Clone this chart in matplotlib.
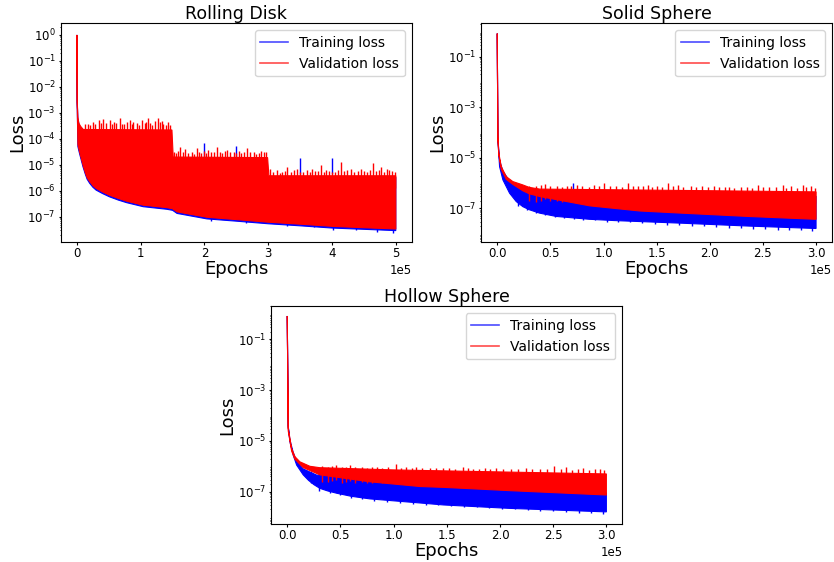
import numpy as np
import matplotlib
matplotlib.use("Agg")
import matplotlib.pyplot as plt
from matplotlib.lines import Line2D

# ---------------- Rolling Disk ----------------
rd_train_lo_ep = [0, 500, 1600, 4000, 9500, 13000, 16000, 20000, 25000, 30000, 40000, 51000, 65000, 78000,
                  104000, 141000, 150000, 157000, 204000, 250000, 300000, 350000, 400000, 450000, 500000]
rd_train_lo = [1.0, 1.6e-3, 5.0e-5, 2.8e-5, 8.5e-6, 4.5e-6, 2.8e-6, 1.95e-6, 1.38e-6, 1.07e-6, 7.9e-7, 5.9e-7,
               4.4e-7, 3.5e-7, 2.45e-7, 1.95e-7, 1.78e-7, 1.35e-7, 8.3e-8, 6.8e-8, 5.4e-8, 4.5e-8, 3.7e-8,
               3.3e-8, 2.95e-8]
rd_train_hi_ep = [0, 500, 1600, 4000, 9500, 141000, 150000, 250000, 300000, 500000]
rd_train_hi = [1.0, 2.5e-3, 6.0e-4, 3.0e-4, 2.0e-4, 2.0e-4, 1.8e-5, 1.8e-5, 3.3e-6, 3.3e-6]
rd_val_lo_ep = rd_train_lo_ep
rd_val_lo = [1.0, 2.0e-3, 6.0e-5, 3.3e-5, 1.0e-5, 5.2e-6, 3.2e-6, 2.3e-6, 1.6e-6, 1.25e-6, 9.1e-7, 6.8e-7,
             5.1e-7, 4.0e-7, 2.8e-7, 2.25e-7, 2.05e-7, 1.55e-7, 9.6e-8, 7.8e-8, 6.2e-8, 5.2e-8, 4.3e-8,
             3.8e-8, 3.4e-8]
rd_val_hi_ep = [0, 500, 1500, 3000, 6000, 10000, 149000, 151000, 299000, 301000, 500000]
rd_val_hi = [1.0, 3.0e-3, 7.0e-4, 4.0e-4, 3.0e-4, 2.3e-4, 2.2e-4, 2.0e-5, 1.9e-5, 3.8e-6, 3.8e-6]
rd_train_spk_ep = [200000, 250000, 350000, 400000]
rd_train_spk = [6.8e-5, 5.4e-5, 1.8e-5, 1.8e-5]
rd_val_spk_ep = [12000, 17000, 21000, 25200, 29000, 34700, 38000, 41000, 46000, 51500, 55000, 58300,
                 62000, 67200, 71000, 74000, 78000, 83000, 86000, 88000, 93500, 97000, 101400, 106000,
                 108000, 111800, 115000, 118000, 122000, 126500, 130200, 133000, 135000, 140000, 143000,
                 146000,
                 153000, 155000, 158000, 162000, 166000, 170000, 174000, 180000, 184000, 188000, 192000,
                 195000, 199000, 203000, 206000, 210000, 215000, 220000, 224000, 228000, 232000, 235000,
                 240000, 246000, 250000, 254000, 258000, 262000, 267000, 271000, 277000, 281000, 285000,
                 289000, 293000, 297000,
                 303000, 308000, 314000, 318000, 322000, 326000, 330000, 335000, 340000, 345000, 350000,
                 355000, 360000, 365000, 369000, 374000, 378000, 382000, 387000, 391000, 395000, 400000,
                 405000, 410000, 414000, 419000, 424000, 429000, 434000, 440000, 445000, 450000, 455000,
                 460000, 464000, 469000, 473000, 477000, 482000, 486000, 490000, 494000, 498000]
rd_val_spk = [3.6e-4, 3.8e-4, 3.3e-4, 4.6e-4, 3.9e-4, 5.4e-4, 4.0e-4, 5.6e-4, 4.2e-4, 5.4e-4, 3.7e-4, 4.6e-4,
              4.1e-4, 6.6e-4, 3.8e-4, 3.6e-4, 4.3e-4, 5.4e-4, 3.9e-4, 4.4e-4, 4.0e-4, 3.5e-4, 5.4e-4, 4.0e-4,
              4.5e-4, 6.6e-4, 4.2e-4, 3.5e-4, 4.8e-4, 6.2e-4, 4.6e-4, 5.0e-4, 3.8e-4, 3.3e-4, 4.5e-4,
              3.5e-4,
              3.0e-5, 2.9e-5, 3.4e-5, 5.0e-5, 3.0e-5, 4.0e-5, 2.8e-5, 3.2e-5, 2.7e-5, 4.3e-5, 3.0e-5,
              2.8e-5, 3.3e-5, 2.9e-5, 3.7e-5, 3.0e-5, 3.2e-5, 5.0e-5, 3.1e-5, 2.9e-5, 3.4e-5, 3.7e-5,
              3.0e-5, 3.2e-5, 2.8e-5, 3.3e-5, 2.8e-5, 3.1e-5, 4.3e-5, 3.0e-5, 3.2e-5, 2.7e-5, 2.9e-5,
              3.4e-5, 3.2e-5, 3.0e-5,
              7.2e-6, 5.5e-6, 6.3e-6, 5.0e-6, 5.5e-6, 6.0e-6, 8.5e-6, 5.4e-6, 6.2e-6, 7.2e-6, 5.3e-6,
              5.5e-6, 6.4e-6, 5.1e-6, 7.2e-6, 5.6e-6, 6.0e-6, 9.8e-6, 5.5e-6, 6.3e-6, 5.8e-6, 5.4e-6,
              5.2e-6, 6.1e-6, 1.3e-5, 5.7e-6, 6.2e-6, 7.2e-6, 5.4e-6, 6.0e-6, 7.2e-6, 5.6e-6, 5.5e-6,
              6.3e-6, 1.15e-5, 5.9e-6, 6.4e-6, 8.5e-6, 5.5e-6, 6.8e-6, 6.3e-6, 5.8e-6, 5.2e-6]
rd_train_dip_ep = [210000, 265000, 330000, 372000, 401000, 438000, 470000, 496000]
rd_train_dip = [7.2e-8, 5.9e-8, 4.6e-8, 3.9e-8, 3.1e-8, 3.0e-8, 2.7e-8, 2.4e-8]

# ---------------- Solid Sphere ----------------
ss_train_lo_ep = [0, 600, 2200, 5300, 11600, 17900, 24100, 30000, 39800, 55500, 86800, 110000, 173000,
                  236000, 300000]
ss_train_lo = [0.83, 5.0e-5, 4.5e-6, 1.35e-6, 4.0e-7, 1.86e-7, 1.17e-7, 8.9e-8, 6.5e-8, 4.8e-8, 3.7e-8,
               3.3e-8, 2.6e-8, 2.0e-8, 1.6e-8]
ss_train_hi_ep = [0, 600, 2200, 5300, 11600, 24000, 40000, 100000, 200000, 300000]
ss_train_hi = [0.83, 6.0e-5, 8.0e-6, 3.0e-6, 1.2e-6, 6.0e-7, 4.5e-7, 4.0e-7, 3.5e-7, 3.0e-7]
ss_val_lo_ep = [0, 600, 1500, 3800, 8500, 14700, 24000, 30000, 40000, 87000, 134000, 173000, 236000, 300000]
ss_val_lo = [0.83, 5.6e-5, 1.26e-5, 3.5e-6, 1.4e-6, 8.9e-7, 5.0e-7, 3.8e-7, 2.95e-7, 1.26e-7, 7.9e-8,
             6.5e-8, 4.8e-8, 3.7e-8]
ss_val_hi_ep = [0, 600, 1500, 3800, 8500, 14700, 24000, 30000, 40000, 100000, 200000, 300000]
ss_val_hi = [0.83, 6.9e-5, 1.5e-5, 4.5e-6, 1.8e-6, 1.15e-6, 8.5e-7, 6.8e-7, 5.8e-7, 5.5e-7, 5.0e-7, 4.5e-7]
ss_train_spk_ep = [71000]
ss_train_spk = [1.0e-6]
ss_val_spk_ep = [30000, 36000, 41000, 44500, 50000, 56000, 61000, 66000, 69600, 75000, 80000, 86000,
                 91000, 96000, 100900, 106000, 112000, 117000, 122800, 128000, 132000, 137000, 141600,
                 146000, 150000, 155000, 160400, 165000, 169900, 175000, 182400, 187000, 193000, 198000,
                 204400, 209000, 214000, 218000, 223200, 229000, 235000, 240000, 245100, 250000, 256000,
                 262000, 268700, 272000, 276500, 282000, 287400, 291000, 295300, 299000]
ss_val_spk = [8.0e-7, 7.4e-7, 8.2e-7, 9.1e-7, 7.6e-7, 8.0e-7, 7.2e-7, 7.8e-7, 7.4e-7, 8.4e-7, 7.8e-7, 7.3e-7,
              8.1e-7, 7.5e-7, 1.0e-6, 7.6e-7, 7.9e-7, 7.2e-7, 1.0e-6, 7.7e-7, 7.4e-7, 8.0e-7, 8.5e-7,
              7.1e-7, 7.6e-7, 7.3e-7, 1.0e-6, 7.5e-7, 8.5e-7, 7.2e-7, 7.4e-7, 7.0e-7, 7.6e-7, 6.8e-7,
              7.4e-7, 7.1e-7, 6.8e-7, 7.2e-7, 6.3e-7, 7.0e-7, 7.3e-7, 6.6e-7, 8.5e-7, 6.9e-7, 6.8e-7,
              7.1e-7, 8.5e-7, 6.7e-7, 7.4e-7, 6.6e-7, 8.5e-7, 6.9e-7, 7.4e-7, 6.5e-7]
ss_train_dip_ep = [20000, 28000, 36000, 45000, 54000, 63000, 72000, 81000, 92000, 103000, 114000, 125000,
                   136000, 148000, 160000, 171000, 183000, 195000, 206000, 218000, 229000, 241000, 252000,
                   264000, 275000, 286000, 296000]
ss_train_dip = [1.3e-7, 9.0e-8, 6.6e-8, 5.6e-8, 4.6e-8, 4.3e-8, 3.8e-8, 3.5e-8, 3.4e-8, 3.0e-8, 2.9e-8,
                2.8e-8, 2.6e-8, 2.5e-8, 2.3e-8, 2.2e-8, 2.1e-8, 2.0e-8, 1.9e-8, 1.75e-8, 1.7e-8, 1.6e-8,
                1.5e-8, 1.45e-8, 1.4e-8, 1.35e-8, 1.3e-8]

# ---------------- Hollow Sphere ----------------
hs_train_lo_ep = [0, 900, 2500, 5600, 8800, 15000, 20000, 25000, 30700, 38000, 46400, 60000, 77700,
                  124600, 147000, 209000, 300000]
hs_train_lo = [0.83, 4.0e-5, 9.3e-6, 2.75e-6, 1.12e-6, 4.6e-7, 2.8e-7, 1.9e-7, 1.35e-7, 1.07e-7, 8.7e-8,
               6.6e-8, 5.2e-8, 3.6e-8, 3.0e-8, 2.2e-8, 1.6e-8]
hs_train_hi_ep = [0, 900, 2500, 5600, 8800, 15000, 27600, 52600, 100000, 200000, 300000]
hs_train_hi = [0.83, 3.5e-5, 1.1e-5, 3.5e-6, 1.6e-6, 7.9e-7, 4.5e-7, 3.9e-7, 2.5e-7, 1.26e-7, 8.9e-8]
hs_val_lo_ep = [0, 900, 2500, 4100, 7200, 11900, 15000, 30700, 77700, 124600, 147000, 209000, 300000]
hs_val_lo = [0.83, 2.5e-5, 1.0e-5, 4.0e-6, 1.9e-6, 1.2e-6, 8.9e-7, 4.6e-7, 2.45e-7, 1.6e-7,
             1.48e-7, 1.1e-7, 7.4e-8]
hs_val_hi_ep = [0, 900, 2500, 4100, 7200, 11900, 21300, 30700, 100000, 200000, 300000]
hs_val_hi = [0.83, 3.2e-5, 1.26e-5, 5.1e-6, 2.4e-6, 1.5e-6, 1.0e-6, 8.8e-7, 7.2e-7, 6.0e-7, 5.0e-7]
hs_train_spk_ep = [30000, 33000]
hs_train_spk = [6.0e-7, 5.5e-7]
hs_val_spk_ep = [33000, 38000, 42000, 46000, 51000, 55000, 59000, 64000, 70000, 75000, 80000, 84000,
                 89000, 95000, 102000, 107000, 112000, 117000, 121000, 127000, 134000, 140000, 146000,
                 152000, 158000, 165000, 170000, 175000, 180000, 186000, 191000, 196000, 203000, 210000,
                 217000, 224000, 230000, 238000, 244000, 251000, 257000, 262000, 268000, 273000, 278000,
                 284000, 289000, 294000, 298000]
hs_val_spk = [1.0e-6, 9.4e-7, 1.05e-6, 1.15e-6, 9.2e-7, 9.8e-7, 1.1e-6, 9.0e-7, 9.6e-7, 8.8e-7, 9.2e-7,
              9.5e-7, 8.7e-7, 9.1e-7, 1.2e-6, 8.8e-7, 9.0e-7, 8.5e-7, 9.5e-7, 8.6e-7, 8.5e-7, 8.9e-7,
              8.3e-7, 8.6e-7, 8.1e-7, 9.5e-7, 8.3e-7, 7.9e-7, 8.0e-7, 8.4e-7, 7.8e-7, 8.8e-7, 8.0e-7,
              7.8e-7, 8.1e-7, 8.3e-7, 7.6e-7, 7.6e-7, 8.0e-7, 1.0e-6, 7.5e-7, 9.5e-7, 7.4e-7, 7.8e-7,
              8.3e-7, 7.2e-7, 7.5e-7, 7.6e-7, 7.0e-7]
hs_train_dip_ep = [22000, 30000, 40000, 50000, 60000, 70000, 82000, 94000, 106000, 118000, 130000, 142000,
                   154000, 166000, 178000, 190000, 202000, 214000, 226000, 238000, 250000, 262000, 274000,
                   286000, 297000]
hs_train_dip = [2.2e-7, 1.1e-7, 8.5e-8, 7.2e-8, 5.6e-8, 5.0e-8, 4.4e-8, 4.0e-8, 3.7e-8, 3.3e-8, 3.1e-8,
                2.9e-8, 2.7e-8, 2.5e-8, 2.4e-8, 2.2e-8, 2.1e-8, 2.0e-8, 1.9e-8, 1.8e-8, 1.7e-8, 1.6e-8,
                1.5e-8, 1.45e-8, 1.35e-8]


def band(ax, ep_lo, lo, ep_hi, hi, color, z):
    # polygon made of the lower edge and the reversed upper edge
    xs = list(ep_lo) + list(ep_hi)[::-1]
    ys = list(lo) + list(hi)[::-1]
    ax.fill(xs, ys, facecolor=color, edgecolor=color, lw=0.8, zorder=z)


def spikes(ax, ep, val, color, z):
    val = np.asarray(val)
    ax.vlines(ep, val / 4, val, color=color, lw=1.0, zorder=z)


def dips(ax, ep, val, color, z):
    val = np.asarray(val)
    ax.vlines(ep, val, val * 3, color=color, lw=1.0, zorder=z)


def panel(ax, title, tr, va, ylim, yticks):
    # training first, validation on top (same order as the original plot)
    band(ax, *tr[:4], 'blue', 2.0)
    spikes(ax, tr[4], tr[5], 'blue', 2.1)
    dips(ax, tr[6], tr[7], 'blue', 2.1)
    band(ax, *va[:4], 'red', 2.2)
    spikes(ax, va[4], va[5], 'red', 2.3)
    ax.set_yscale('log')
    ax.set_ylim(ylim)
    ax.set_yticks(yticks)
    ax.margins(x=0.05)
    ax.ticklabel_format(axis='x', style='sci', scilimits=(0, 0))
    ax.tick_params(which='major', labelsize=8.5, length=1.8, pad=1.8)
    ax.tick_params(which='minor', length=1.0)
    ax.xaxis.get_offset_text().set_fontsize(8.5)
    ax.set_title(title, fontsize=12.5, pad=2)
    ax.set_xlabel('Epochs', fontsize=13, labelpad=0)
    ax.set_ylabel('Loss', fontsize=13, labelpad=1)
    handles = [Line2D([], [], color='blue', alpha=0.7, lw=1.2),
               Line2D([], [], color='red', alpha=0.7, lw=1.2)]
    ax.legend(handles, ['Training loss', 'Validation loss'], loc='upper right', fontsize=10)


fig = plt.figure(figsize=(8.34, 5.62), dpi=100)
ax1 = fig.add_axes([0.0731, 0.5699, 0.4206, 0.3886])
ax2 = fig.add_axes([0.5771, 0.5699, 0.4205, 0.3886])
ax3 = fig.add_axes([0.3253, 0.0682, 0.4209, 0.3868])

panel(ax1, 'Rolling Disk',
      (rd_train_lo_ep, rd_train_lo, rd_train_hi_ep, rd_train_hi, rd_train_spk_ep, rd_train_spk,
       rd_train_dip_ep, rd_train_dip),
      (rd_val_lo_ep, rd_val_lo, rd_val_hi_ep, rd_val_hi, rd_val_spk_ep, rd_val_spk),
      (1.1e-8, 2.8), [1e0, 1e-1, 1e-2, 1e-3, 1e-4, 1e-5, 1e-6, 1e-7])
panel(ax2, 'Solid Sphere',
      (ss_train_lo_ep, ss_train_lo, ss_train_hi_ep, ss_train_hi, ss_train_spk_ep, ss_train_spk,
       ss_train_dip_ep, ss_train_dip),
      (ss_val_lo_ep, ss_val_lo, ss_val_hi_ep, ss_val_hi, ss_val_spk_ep, ss_val_spk),
      (4.8e-9, 2.1), [1e-1, 1e-3, 1e-5, 1e-7])
panel(ax3, 'Hollow Sphere',
      (hs_train_lo_ep, hs_train_lo, hs_train_hi_ep, hs_train_hi, hs_train_spk_ep, hs_train_spk,
       hs_train_dip_ep, hs_train_dip),
      (hs_val_lo_ep, hs_val_lo, hs_val_hi_ep, hs_val_hi, hs_val_spk_ep, hs_val_spk),
      (5.5e-9, 2.0), [1e-1, 1e-3, 1e-5, 1e-7])

fig.savefig('out.png', dpi=100)
